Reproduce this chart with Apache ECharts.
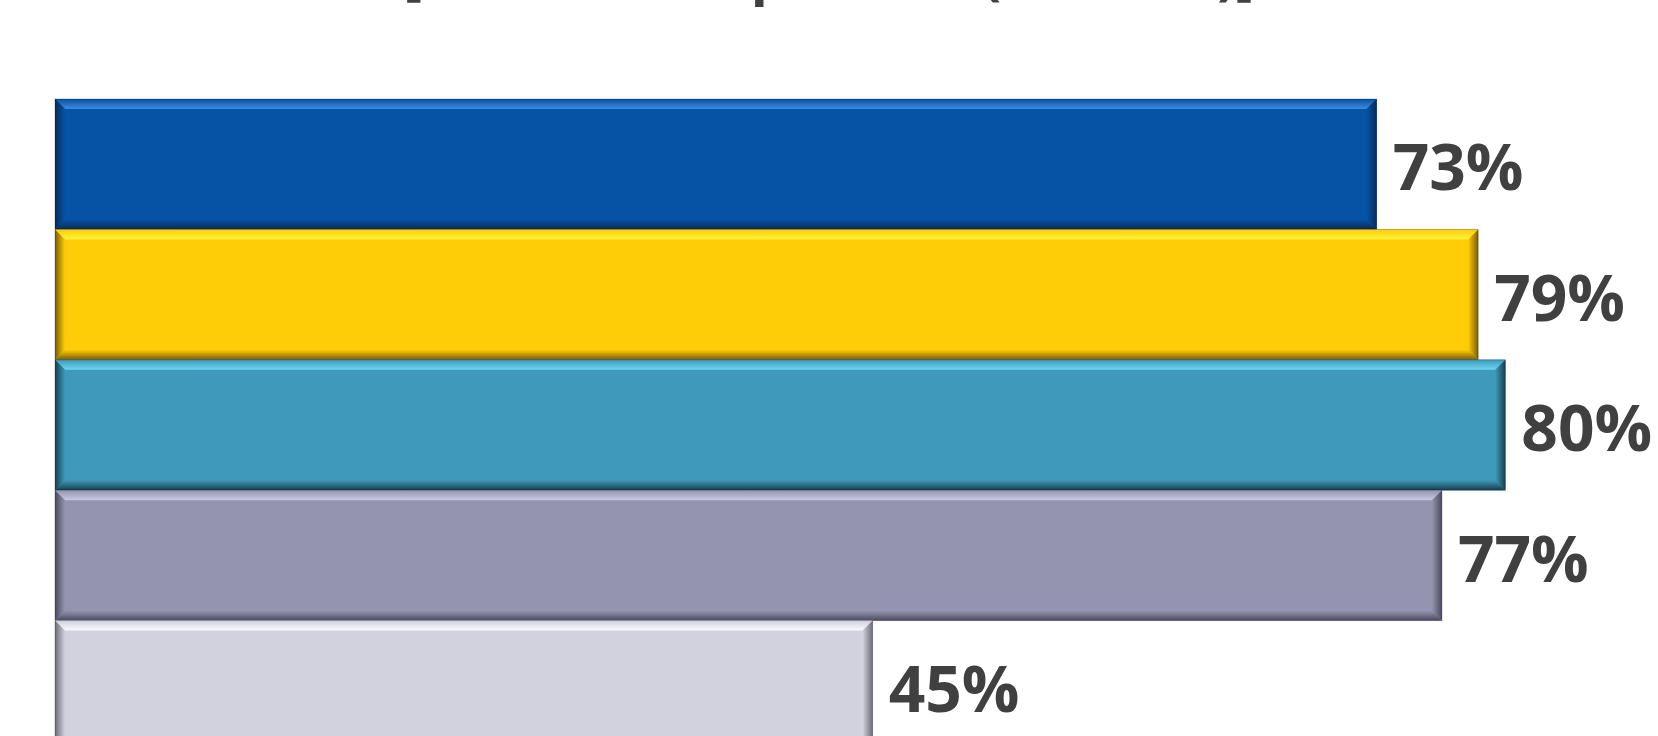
<!DOCTYPE html>
<html>
<head>
    <meta charset="utf-8" />
    <title></title>
    <script src="https://cdn.jsdelivr.net/npm/echarts@6/dist/echarts.min.js" type="text/javascript"></script>
    <style>
        html,body{
    width: 100%;
    height: 100%;
    margin: 0px;
    padding: 0px;
    background: #fff;
  }
  #main{
    width: 1658px;
    height: 736px;
  }
  </style>
</head>
<body>
    <div id="main"></div>
</body>
<script type="text/javascript">
    // values, labels show them rounded
    var categories = ['A', 'B', 'C', 'D', 'E'];
    var values = [72.9, 78.5, 80, 76.5, 45.1];
    var titleText = '[Chart titles percent (%/Total)]';

    // base / light edge / dark edge for each bar
    var baseColors = ['#0652a5', '#ffcc08', '#3e99ba', '#9494b0', '#d2d2df'];
    var lightColors = ['#3d8be0', '#fff43a', '#6fd6f2', '#c9c9e4', '#fafaff'];
    var darkColors = ['#082c5a', '#7a5c00', '#163f4e', '#4a4a5e', '#6a6a78'];

    var myChart = echarts.init(document.getElementById('main'));

    function grad(x1, y1, x2, y2, c1, c2) {
        return new echarts.graphic.LinearGradient(x1, y1, x2, y2, [
            { offset: 0, color: c1 },
            { offset: 1, color: c2 }
        ]);
    }

    function renderBar(params, api) {
        var i = params.dataIndex;
        var val = api.value(1);
        var p0 = api.coord([0, api.value(0)]);
        var p1 = api.coord([val, api.value(0)]);
        var h = api.size([0, 1])[1];
        var x0 = p0[0], x1 = p1[0];
        var y0 = p0[1] - h / 2, y1 = p0[1] + h / 2;
        var b = 10;
        var base = baseColors[i], light = lightColors[i], dark = darkColors[i];
        return {
            type: 'group',
            children: [
                { type: 'rect', shape: { x: x0, y: y0, width: x1 - x0, height: y1 - y0 }, style: { fill: base } },
                { type: 'polygon', shape: { points: [[x0, y0], [x1, y0], [x1 - b, y0 + b], [x0 + b, y0 + b]] },
                  style: { fill: grad(0, 0, 0, 1, base, light) } },
                { type: 'polygon', shape: { points: [[x0, y1], [x1, y1], [x1 - b, y1 - b], [x0 + b, y1 - b]] },
                  style: { fill: grad(0, 0, 0, 1, base, dark) } },
                { type: 'polygon', shape: { points: [[x0, y0], [x0 + b, y0 + b], [x0 + b, y1 - b], [x0, y1]] },
                  style: { fill: grad(0, 0, 1, 0, dark, base) } },
                { type: 'polygon', shape: { points: [[x1, y0], [x1 - b, y0 + b], [x1 - b, y1 - b], [x1, y1]] },
                  style: { fill: grad(0, 0, 1, 0, base, dark) } },
                { type: 'rect', shape: { x: x0, y: y0, width: x1 - x0, height: y1 - y0 },
                  style: { fill: 'none', stroke: 'rgba(0,0,0,0.25)', lineWidth: 1 } },
                { type: 'text', x: x1 + 16, y: p0[1] + 8,
                  style: {
                      text: Math.round(val) + '%',
                      fill: '#404040',
                      font: 'bold 64px "Open Sans"',
                      verticalAlign: 'middle',
                      align: 'left'
                  } }
            ]
        };
    }

    myChart.setOption({
        animation: false,
        title: {
            text: titleText,
            left: 'center',
            top: -55,
            textStyle: {
                color: '#404040',
                fontSize: 56,
                fontWeight: 'bold',
                fontFamily: 'Open Sans'
            }
        },
        grid: {
            left: 55,
            top: 99,
            right: 62,
            height: 652,
            outerBoundsMode: 'none'
        },
        xAxis: {
            type: 'value',
            min: 0,
            max: 85,
            show: false
        },
        yAxis: {
            type: 'category',
            data: categories,
            inverse: true,
            show: false
        },
        series: [{
            type: 'custom',
            renderItem: renderBar,
            clip: false,
            data: values.map(function (v, i) { return [i, v]; }),
            encode: { x: 1, y: 0 }
        }]
    });
</script>
</html>
